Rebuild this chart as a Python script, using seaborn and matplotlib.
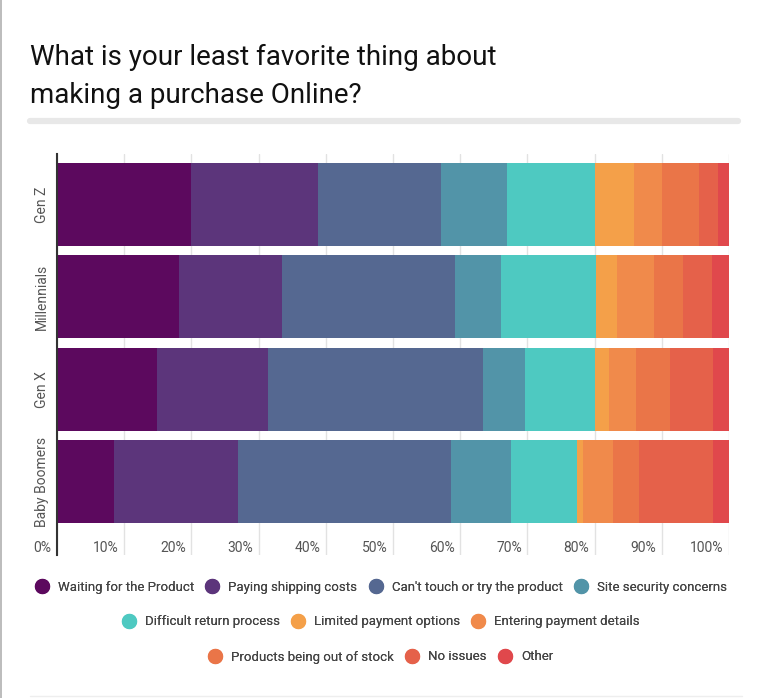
import numpy as np
import pandas as pd
import matplotlib
matplotlib.use("Agg")
import matplotlib.pyplot as plt
from matplotlib.lines import Line2D
from matplotlib.transforms import ScaledTranslation
import seaborn as sns

categories = ["Gen Z", "Millennials", "Gen X", "Baby Boomers"]
series_names = [
    "Waiting for the Product", "Paying shipping costs", "Can't touch or try the product",
    "Site security concerns", "Difficult return process", "Limited payment options",
    "Entering payment details", "Products being out of stock", "No issues", "Other",
]
waiting   = [19.9, 18.1, 14.9, 8.5]
shipping  = [19.0, 15.4, 16.5, 18.4]
touch     = [18.2, 25.8, 32.0, 31.8]
security  = [9.9, 6.8, 6.2, 8.9]
returns   = [13.1, 14.1, 10.5, 9.8]
limited   = [5.7, 3.1, 2.1, 0.9]
entering  = [4.3, 5.5, 3.9, 4.5]
stock     = [5.4, 4.4, 5.1, 3.8]
no_issues = [2.8, 4.3, 6.4, 11.0]
other     = [1.8, 2.5, 2.4, 2.4]
x_ticks = [0, 10, 20, 30, 40, 50, 60, 70, 80, 90, 100]
x_tick_labels = ["0%", "10%", "20%", "30%", "40%", "50%", "60%", "70%", "80%", "90%", "100%"]

colors = ["#5c095e", "#5c357b", "#556891", "#5294a8", "#4ec9c1",
          "#f4a049", "#f08a4b", "#ea7548", "#e5614a", "#e0484c"]

values = np.array([waiting, shipping, touch, security, returns, limited,
                   entering, stock, no_issues, other])
cum = np.cumsum(values, axis=0)

sns.set_theme(style="white")
plt.rcParams['font.family'] = ['Roboto', 'DejaVu Sans']

fig = plt.figure(figsize=(7.68, 6.98), dpi=100)
ax = fig.add_axes([57/768, (698-555)/698, 672/768, (555-154)/698])

for i in range(len(series_names) - 1, -1, -1):
    df = pd.DataFrame({"cat": categories, "val": cum[i]})
    sns.barplot(data=df, x="val", y="cat", color=colors[i], width=0.9,
                saturation=1, linewidth=0, ax=ax, zorder=3, order=categories)

ax.set_xlim(0, 100)
ax.set_ylim(3.796, -0.547)
ax.set_xlabel("")
ax.set_ylabel("")
ax.set_xticks(x_ticks)
ax.set_xticklabels(x_tick_labels)
ax.grid(axis='x', color='#e2e2e2', linewidth=1, zorder=0)
ax.grid(axis='y', visible=False)
ax.set_axisbelow(True)
for s in ["top", "right", "bottom"]:
    ax.spines[s].set_visible(False)
ax.spines["left"].set_color("#333333")
ax.spines["left"].set_linewidth(1.5)
ax.spines["left"].set_zorder(5)

ax.tick_params(axis='x', length=0, pad=-10, labelsize=10, labelcolor="#555555")
ax.tick_params(axis='y', length=0, pad=6, labelsize=10, labelcolor="#555555", labelrotation=90)
for lab in ax.get_xticklabels():
    lab.set_ha('right')
    lab.set_transform(lab.get_transform() + ScaledTranslation(-4/72, 0, fig.dpi_scale_trans))
for lab in ax.get_yticklabels():
    lab.set_va('center')

fig.text(30/768, 1 - 65/698, "What is your least favorite thing about",
         ha='left', va='baseline', fontsize=20, color="#111111")
fig.text(30/768, 1 - 103/698, "making a purchase Online?",
         ha='left', va='baseline', fontsize=20, color="#111111")

# decorative lines
fig.add_artist(Line2D([30/768, 738/768], [1 - 121/698, 1 - 121/698], color="#e8e8e8", lw=4.5,
                      transform=fig.transFigure))
fig.add_artist(Line2D([30/768, 742/768], [1 - 696/698, 1 - 696/698], color="#eeeeee", lw=1,
                      transform=fig.transFigure))
fig.add_artist(Line2D([0.5/768, 0.5/768], [0, 1], color="#b0b0b0", lw=1.2,
                      transform=fig.transFigure))

def handle(c):
    return Line2D([], [], marker='o', linestyle='none', markersize=10,
                  markerfacecolor=c, markeredgecolor=c)

rows = [[0, 1, 2, 3], [4, 5, 6], [7, 8, 9]]
ys = [587, 622, 657]
for r, y in zip(rows, ys):
    leg = fig.legend([handle(colors[i]) for i in r], [series_names[i] for i in r],
                     loc='center', bbox_to_anchor=(381/768, 1 - y/698), ncol=len(r),
                     frameon=False, fontsize=9.5, handlelength=1.0, handletextpad=0.7,
                     columnspacing=0.9, labelcolor="#444444", borderaxespad=0)
    fig.add_artist(leg)

fig.savefig("out.png", dpi=100)
